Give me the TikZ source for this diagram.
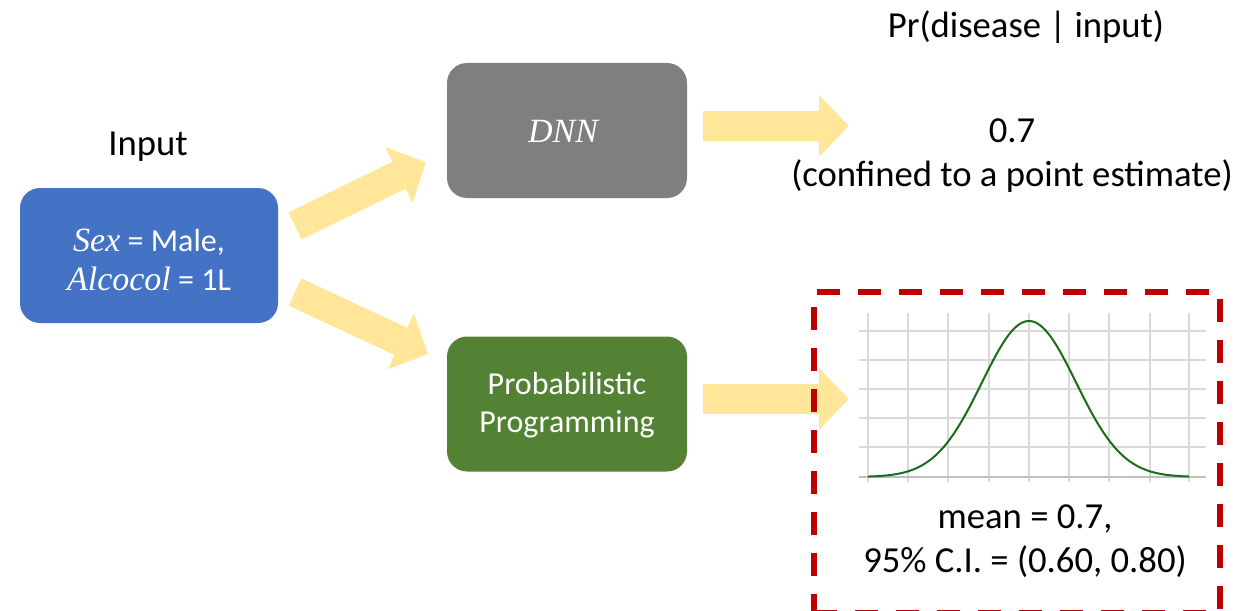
\documentclass[tikz,border=0pt]{standalone}
\usepackage{fontspec}
\setmainfont{Carlito}
\newfontfamily\varfont{Liberation Serif}
\newcommand{\varname}[1]{{\varfont\itshape\fontsize{25.5}{29}\selectfont #1}}
\usetikzlibrary{arrows.meta}
\definecolor{boxblue}{HTML}{4472C4}
\definecolor{boxgray}{HTML}{7F7F7F}
\definecolor{boxgreen}{HTML}{548235}
\definecolor{arrowyellow}{HTML}{FFE699}
\definecolor{dashred}{HTML}{C00000}
\definecolor{gridgray}{HTML}{D9D9D9}
\definecolor{axisgray}{HTML}{BFBFBF}
\definecolor{curvegreen}{HTML}{1A6B1A}
\tikzset{
  box/.style={draw=none, rounded corners=15pt, minimum height=101.25pt, inner sep=0pt},
  boxtext/.style={text=white, font=\fontsize{24}{29}\selectfont, align=center, inner sep=0pt},
  plaintext/.style={text=black, font=\fontsize{27.5}{33}\selectfont, align=center, inner sep=0pt},
  fatarrow/.style={draw=arrowyellow, line width=22.5pt,
    -{Triangle[length=22.5pt, width=45pt]}},
  resultbox/.style={draw=dashred, line width=4.5pt, dash pattern=on 17.25pt off 13.5pt,
    minimum width=304.5pt, minimum height=240.75pt, inner sep=0pt},
}
\begin{document}
\begin{tikzpicture}[x=0.75pt, y=-0.75pt]
\useasboundingbox (0,0) rectangle (1241,610);

% labels
\node[plaintext] (prlabel) at (1026,27) {Pr(disease | input)};
\node[plaintext] (inlabel) at (148,147) {Input};

% boxes
\node[box, fill=boxblue, minimum width=193.5pt] (input) at (149,255.5) {};
\node[boxtext] (inputtext) at (149,260) {\varname{Sex} = Male,\\ \varname{Alcocol} = 1L};
\node[box, fill=boxgray, minimum width=180pt] (dnn) at (567,130.5) {};
\node[boxtext] (dnntext) at (563,131) {\varname{DNN}};
\node[box, fill=boxgreen, minimum width=180pt] (pp) at (567,404) {};
\node[boxtext] (pptext) at (567,405) {Probabilistic\\ Programming};

% arrow endpoints
\coordinate (a1s) at (295,226);
\coordinate (a1e) at (426,162);
\coordinate (a2s) at (295,292);
\coordinate (a2e) at (428,354);
\coordinate (a3s) at (703,126);
\coordinate (a3e) at (849,126);
\coordinate (a4s) at (703,399);
\coordinate (a4e) at (849,399);

\draw[fatarrow] (a1s) -- (a1e);
\draw[fatarrow] (a2s) -- (a2e);
\draw[fatarrow] (a3s) -- (a3e);
\draw[fatarrow] (a4s) -- (a4e);

% point estimate text
\node[plaintext] (point) at (1012,156) {0.7\\ (confined to a point estimate)};

% chart grid
\foreach \gy in {331,360,389,418,447} {
  \draw[gridgray, line width=0.9pt] (859,\gy) -- (1206,\gy);
}
\foreach \gx in {868,908,948,989,1029,1069,1109,1150,1189} {
  \draw[gridgray, line width=0.9pt] (\gx,313) -- (\gx,482);
}
\draw[axisgray, line width=1.1pt] (859,477) -- (1206,477);
\draw[curvegreen, line width=1.5pt] plot[domain=868:1189, samples=120, smooth]
  (\x, {477-156*exp(-((\x-1029)/47)*((\x-1029)/47)/2)});

% result text
\node[plaintext] (stats) at (1025,541) {mean = 0.7,\\ 95\% C.I. = (0.60, 0.80)};

% dashed result box
\node[resultbox] (result) at (1017,452.5) {};
\end{tikzpicture}
\end{document}
